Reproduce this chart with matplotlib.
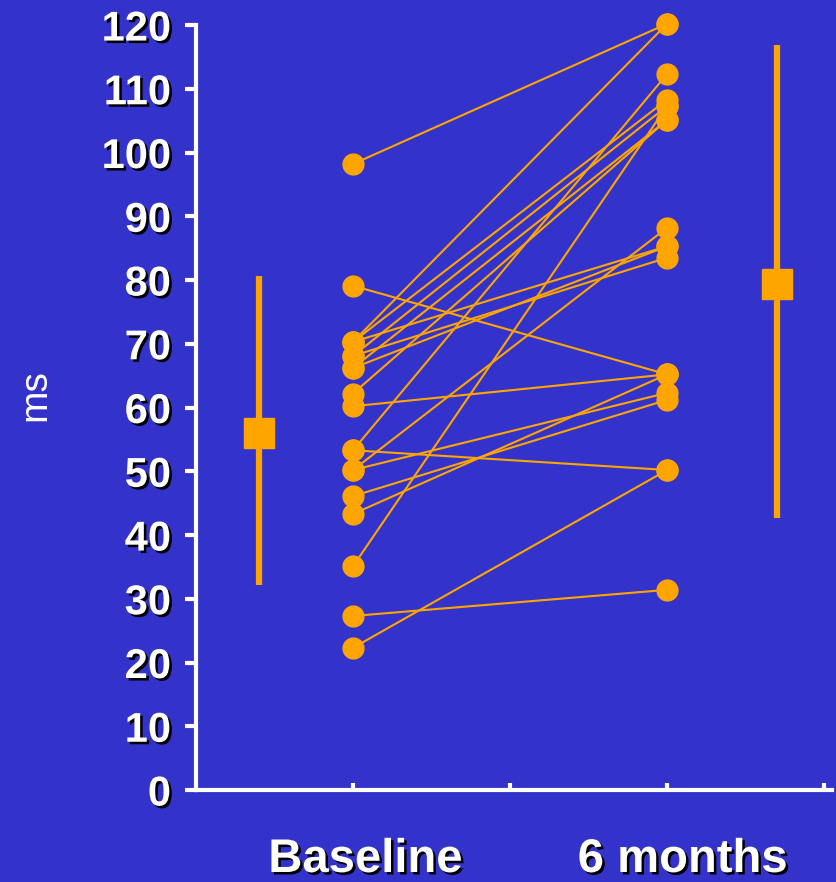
import matplotlib
matplotlib.use("Agg")
import matplotlib.pyplot as plt
import matplotlib.patheffects as pe

# paired values, baseline -> 6 months (ms)
baseline = [98.2, 70.3, 79.1, 70.3, 70.3, 68.1, 68.1, 66.2, 66.2, 62.2,
            60.2, 53.3, 53.3, 50.2, 50.2, 46.1, 43.3, 35.1, 27.3, 22.3]
six_months = [120.2, 120.2, 65.2, 108.3, 85.3, 107.3, 83.5, 105.1, 85.3, 105.1,
              65.2, 112.3, 50.2, 88.2, 62.3, 61.2, 65.2, 107.3, 31.4, 50.2]

group_labels = ["Baseline", "6 months"]
summary_mean = [56.0, 79.4]
summary_low = [32.2, 42.7]
summary_high = [80.6, 116.9]
y_ticks = list(range(0, 121, 10))

BG = "#3333CC"
ORANGE = "#FFA500"
plt.rcParams["font.family"] = ["Liberation Sans", "DejaVu Sans"]
shadow = [pe.withSimplePatchShadow(offset=(1.8, -1.8), shadow_rgbFace="black", alpha=1.0)]

fig = plt.figure(figsize=(8.36, 8.82), dpi=100, facecolor=BG)
ax = fig.add_axes([0.2344, 0.1043, 0.7608, 0.8673], facecolor=BG)

for b, s in zip(baseline, six_months):
    ax.plot([1, 3], [b, s], color=ORANGE, lw=1.5, zorder=2, clip_on=False)
ax.plot([1] * len(baseline), baseline, "o", color=ORANGE, ms=15, zorder=3, clip_on=False)
ax.plot([3] * len(six_months), six_months, "o", color=ORANGE, ms=15, zorder=3, clip_on=False)

# mean and range on either side
sx = [0.4, 3.7]
ax.vlines(sx, summary_low, summary_high, color=ORANGE, lw=4.5, zorder=2)
ax.plot(sx, summary_mean, "s", color=ORANGE, ms=22, zorder=3)

ax.set_xlim(0, 4.05)
ax.set_ylim(0, 120)
ax.set_yticks(y_ticks)
ax.set_yticklabels([str(v) for v in y_ticks], fontsize=30, fontweight="bold",
                   color="white", path_effects=shadow)
ax.set_xticks([1, 2, 3, 4])
ax.set_xticklabels([])

for side in ["top", "right"]:
    ax.spines[side].set_visible(False)
for side in ["left", "bottom"]:
    ax.spines[side].set_color("white")
    ax.spines[side].set_linewidth(3)
ax.tick_params(axis="y", direction="out", length=8, width=3, color="white", pad=10)
ax.tick_params(axis="x", direction="in", length=5, width=3, color="white")

for x, lab in zip([1.08, 3.1], group_labels):
    ax.text(x, -0.0915, lab, transform=ax.get_xaxis_transform(), ha="center", va="center",
            fontsize=34, fontweight="bold", color="white", path_effects=shadow)

fig.text(0.042, 0.552, "ms", rotation=90, ha="center", va="center", fontsize=28, color="white")

fig.savefig("out.png", dpi=100, facecolor=BG)
